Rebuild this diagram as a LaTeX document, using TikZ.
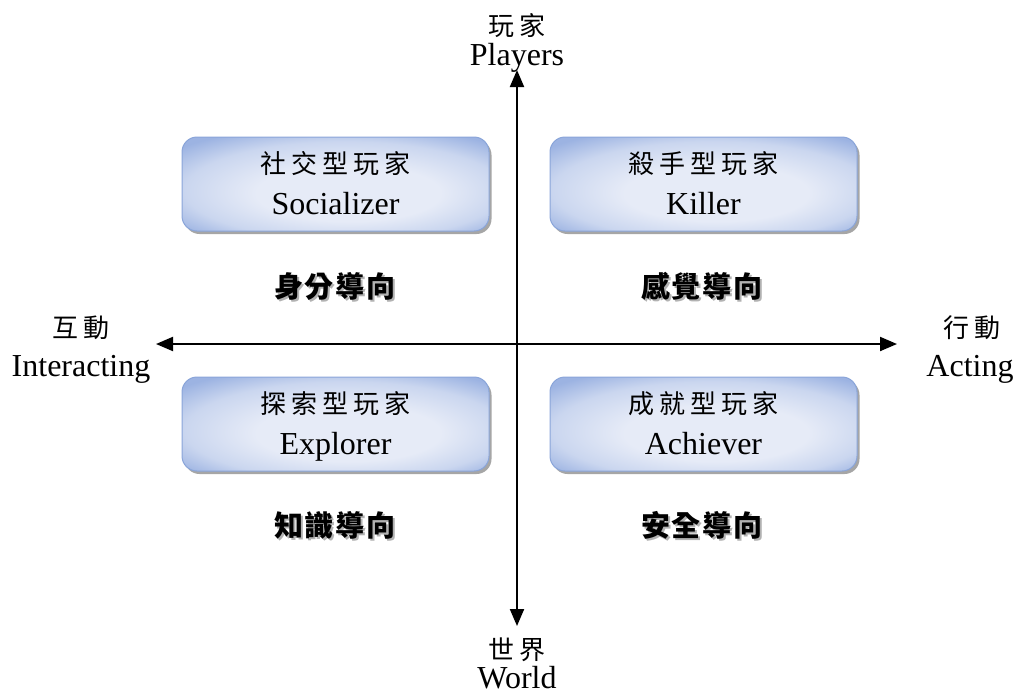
\documentclass[tikz,border=0pt]{standalone}
\usepackage{fontspec}
\setmainfont{Liberation Serif}
\newfontfamily\cjk{Noto Sans CJK TC}
\newfontfamily\cjkbf{Noto Sans CJK TC Black}
\usetikzlibrary{arrows.meta,shadows}
\definecolor{boxedge}{HTML}{8AA5D9}
\definecolor{boxouter}{HTML}{9CB3E2}
\definecolor{boxmid}{HTML}{CAD6EF}
\definecolor{boxinner}{HTML}{E6EBF7}
\pgfdeclareradialshading{boxglow}{\pgfpoint{3bp}{-7bp}}{%
  color(0bp)=(boxinner); color(15bp)=(boxinner); color(26bp)=(boxmid);
  color(34bp)=(boxouter); color(50bp)=(boxouter)}
\newcommand\cg{\hspace{5pt}}
\newcommand\bg{\hspace{2pt}}
\begin{document}
\begin{tikzpicture}[x=1pt,y=-1pt,
  qbox/.style={draw=boxedge, line width=1pt, rounded corners=15pt,
    minimum width=307pt, minimum height=94pt, shading=boxglow,
    drop shadow={shadow xshift=2.5pt, shadow yshift=-3pt, fill=black, opacity=.35}},
  cjline/.style={anchor=base, inner sep=0pt, font=\cjk\fontsize{26pt}{30pt}\selectfont},
  enline/.style={anchor=base, inner sep=0pt, font=\fontsize{32pt}{36pt}\selectfont},
  tag/.style={inner sep=0pt, font=\cjkbf\fontsize{29pt}{32pt}\selectfont},
  tagshadow/.style={tag, text=black!30},
  axis/.style={line width=2pt, {Triangle[length=17pt,width=14pt]}-{Triangle[length=17pt,width=14pt]}}]
\useasboundingbox (0,0) rectangle (1023,697);

% axes
\coordinate (ytop) at (517,70);
\coordinate (ybot) at (517,626);
\coordinate (xleft) at (156,344);
\coordinate (xright) at (897,344);
\draw[axis] (xleft) -- (xright);
\draw[axis] (ytop) -- (ybot);

% axis labels
\node[cjline] (pcn) at (517,35) {玩\cg 家};
\node[enline] (pen) at (517,65) {Players};
\node[cjline] (wcn) at (517,659) {世\cg 界};
\node[enline] (wen) at (517,688) {World};
\node[cjline] (icn) at (81,337) {互\cg 動};
\node[enline] (ien) at (81,376) {Interacting};
\node[cjline] (acn) at (972,337) {行\cg 動};
\node[enline] (aen) at (970,376) {Acting};

% quadrant boxes
\node[qbox] (soc) at (335.5,184) {};
\node[qbox] (kil) at (703.5,184) {};
\node[qbox] (exp) at (335.5,424) {};
\node[qbox] (ach) at (703.5,424) {};

\node[cjline] (soccn) at (335.5,173) {社\cg 交\cg 型\cg 玩\cg 家};
\node[enline] (socen) at (335.5,214) {Socializer};
\node[cjline] (kilcn) at (703.5,173) {殺\cg 手\cg 型\cg 玩\cg 家};
\node[enline] (kilen) at (703.5,214) {Killer};
\node[cjline] (expcn) at (335.5,413) {探\cg 索\cg 型\cg 玩\cg 家};
\node[enline] (expen) at (335.5,454) {Explorer};
\node[cjline] (achcn) at (703.5,413) {成\cg 就\cg 型\cg 玩\cg 家};
\node[enline] (achen) at (703.5,454) {Achiever};

% orientation tags with a soft shadow
\foreach \px/\py/\txt/\nm in {335/286/身\bg 分\bg 導\bg 向/ta, 702/286/感\bg 覺\bg 導\bg 向/tb,
                              335/525/知\bg 識\bg 導\bg 向/tc, 702/525/安\bg 全\bg 導\bg 向/td}{
  \node[tagshadow] at (\px+2,\py+2) {\txt};
  \node[tag] (\nm) at (\px,\py) {\txt};
}
\end{tikzpicture}
\end{document}
